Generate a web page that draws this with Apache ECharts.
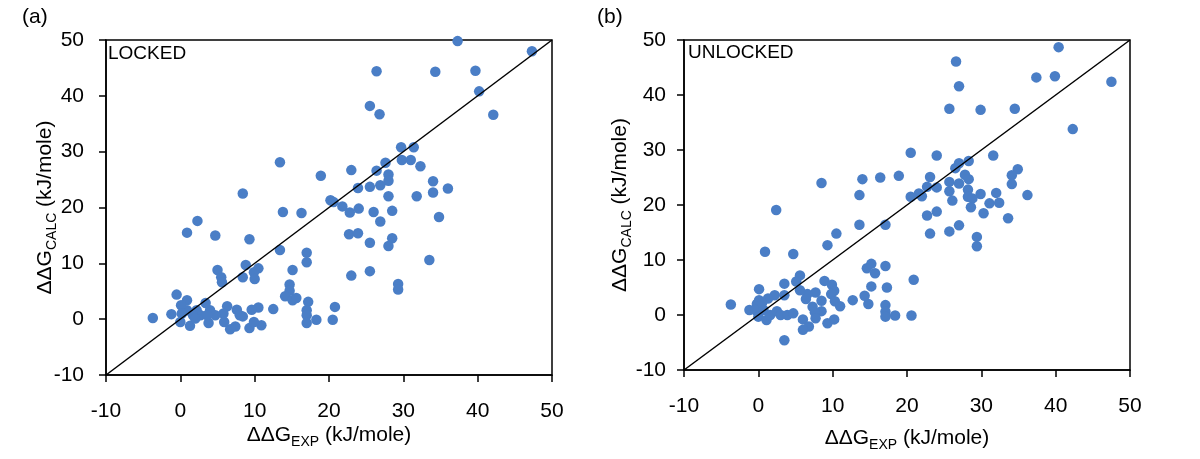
<!DOCTYPE html>
<html><head><meta charset="utf-8">
<script src="https://cdn.jsdelivr.net/npm/echarts@6/dist/echarts.min.js"></script>
<style>html,body{margin:0;padding:0;background:#fff}#c{width:1200px;height:459px}</style>
</head><body><div id="c"></div>
<script>
const lockedPts = [[13.4,28.1],[18.9,25.7],[8.4,22.5],[13.8,19.2],[16.3,19.0],[20.2,21.3],
[37.3,49.8],[47.3,48.0],[26.4,44.4],[34.3,44.3],[39.7,44.5],[40.2,40.8],[25.5,38.2],[26.8,36.7],[42.1,36.6],[29.7,30.8],[31.4,30.8],[29.8,28.5],[31.0,28.5],[32.3,27.4],[27.6,28.0],[26.4,26.6],[28.0,25.9],[28.0,24.8],[23.0,26.7],[23.9,23.5],[25.5,23.7],[26.9,24.0],[28.0,22.0],[31.8,22.0],[34.0,24.7],[34.0,22.7],[36.0,23.4],[20.6,21.0],[21.8,20.2],[22.8,19.1],[24.0,19.8],[26.0,19.2],[28.5,19.4],[26.9,17.5],[34.8,18.3],
[22.7,15.2],[23.9,15.4],[25.5,13.7],[28.5,14.5],[28.0,13.1],[33.5,10.6],[23.0,7.8],[25.5,8.6],[29.3,6.3],[29.3,5.3],[20.8,2.2],[20.5,-0.1],
[2.3,17.6],[0.9,15.5],[4.7,15.0],[9.3,14.3],[13.4,12.4],[17.0,11.9],[17.0,10.2],[15.1,8.8],[8.8,9.7],[10.5,9.1],[9.9,8.4],[8.4,7.5],[10.0,7.2],[5.0,8.8],[5.5,7.5],[5.6,6.6],[14.7,6.2],[14.7,5.1],[14.1,4.1],[15.1,3.4],[15.6,3.8],[17.2,3.1],[17.0,1.6],[17.0,0.7],[17.0,-0.7],[18.3,-0.1],[12.5,1.8],[10.5,2.1],[9.6,1.7],[10.9,-1.1],[9.3,-1.6],[9.9,-0.5],[8.4,0.5],[7.6,1.7],[8.0,0.7],[7.4,-1.3],[6.7,-1.8],[6.3,2.3],[5.8,1.0],[5.9,-0.5],[4.7,0.7],[3.8,-0.7],[4.0,1.6],[3.4,2.9],[2.7,0.7],[2.2,1.6],[1.3,-1.2],[0.9,3.4],[0.9,1.6],[0.1,2.5],[0.2,1.0],[0.0,-0.5],[-0.5,4.4],[-1.2,0.9],[-3.7,0.2],[1.7,0.7],[2.0,0.1],[3.6,0.7]];

const unlockedPts = [[8.5,24.0],[14.0,24.7],[16.4,25.0],[18.9,25.3],[13.6,21.8],[20.5,29.5],[20.5,21.5],[2.4,19.1],
[40.4,48.7],[26.6,46.1],[27.0,41.6],[37.4,43.2],[39.9,43.4],[47.5,42.4],[25.7,37.5],[29.9,37.3],[34.5,37.5],[42.3,33.8],[24.0,29.0],[31.6,29.0],[28.3,28.0],[27.0,27.6],[26.5,26.7],[23.1,25.1],[27.8,25.5],[28.3,24.7],[25.7,24.2],[27.0,23.9],[34.9,26.5],[34.1,25.4],[34.1,23.8],[22.7,23.3],[24.0,23.2],[28.2,22.8],[25.7,22.5],[21.6,22.1],[22.0,21.6],[28.2,21.5],[29.9,22.0],[32.0,22.2],[36.2,21.8],[26.1,20.8],[28.8,21.2],[31.1,20.3],[32.4,20.4],[28.6,19.6],[24.0,18.8],
[22.7,18.1],[30.3,18.5],[33.6,17.6],[23.1,14.8],[25.7,15.2],[27.0,16.3],[29.4,14.2],[29.4,12.5],[20.9,6.4],[20.6,-0.1],
[13.6,16.4],[17.1,16.4],[10.5,14.8],[9.3,12.7],[0.9,11.5],[4.7,11.1],[14.6,8.5],[15.2,9.3],[15.7,7.6],[17.1,8.9],[17.3,5.0],[15.2,5.2],[14.3,3.5],[12.7,2.7],[14.8,2.0],[17.1,1.8],[17.1,0.6],[17.1,-0.3],[18.4,-0.1],[5.6,7.2],[5.1,6.1],[3.5,5.7],[8.9,6.2],[9.9,5.5],[10.2,4.4],[9.8,3.8],[7.7,4.1],[6.6,3.8],[5.6,4.5],[6.4,2.9],[8.5,2.6],[10.3,2.5],[11.0,1.6],[7.3,1.5],[8.5,0.7],[7.6,0.5],[7.7,-0.6],[6.0,-0.8],[6.8,-2.1],[6.0,-2.7],[9.3,-1.5],[10.2,-0.8],[3.5,-4.6],[3.5,3.6],[2.2,3.6],[0.1,4.7],[0.1,2.7],[1.3,3.0],[-0.2,2.0],[-1.2,0.9],[-3.7,1.9],[-0.4,0.9],[0.7,0.9],[0.0,-0.3],[1.1,-0.9],[1.6,0.0],[2.5,0.7],[3.0,0.0],[3.9,0.0],[4.7,0.3],[0.5,2.2]];

const diagonal = [[-10,-10],[50,50]];
const axisMin = -10, axisMax = 50, axisStep = 10;
const panelLabels = ['(a)', '(b)'];
const panelTags = ['LOCKED', 'UNLOCKED'];

const FONT = 'Liberation Sans, Arial, sans-serif';
const DOT = '#4a7ec6';
const rich = {
  m: {fontSize: 21, fontFamily: FONT, color: '#000', verticalAlign: 'top', lineHeight: 24},
  s: {fontSize: 14, fontFamily: FONT, color: '#000', verticalAlign: 'top', lineHeight: 14, padding: [10, 0, 0, 0]}
};
function xAx(i, gap){
  return {gridIndex:i, type:'value', min:axisMin, max:axisMax, interval:axisStep,
    splitLine:{show:false},
    axisLine:{onZero:false, lineStyle:{color:'#000', width:1.5}},
    axisTick:{inside:false, length:7, lineStyle:{color:'#000', width:1.5}},
    axisLabel:{fontSize:21, color:'#000', fontFamily:FONT, margin:26},
    name:'{m|ΔΔG}{s|EXP}{m| (kJ/mole)}', nameLocation:'middle', nameGap:gap, nameMoveOverlap:false,
    nameTextStyle:{rich}};
}
function yAx(i, gap, margin){
  return {gridIndex:i, type:'value', min:axisMin, max:axisMax, interval:axisStep,
    splitLine:{show:false},
    axisLine:{onZero:false, lineStyle:{color:'#000', width:1.5}},
    axisTick:{inside:false, length:7, lineStyle:{color:'#000', width:1.5}},
    axisLabel:{fontSize:21, color:'#000', fontFamily:FONT, margin:margin},
    name:'{m|ΔΔG}{s|CALC}{m| (kJ/mole)}', nameLocation:'middle', nameGap:gap, nameRotate:90, nameMoveOverlap:false,
    nameTextStyle:{rich}};
}
const chart = echarts.init(document.getElementById('c'), null, {renderer:'canvas'});
chart.setOption({
  animation:false,
  backgroundColor:'#fff',
  grid:[
    {left:106, top:40, width:446, height:335, show:true, borderColor:'#000', borderWidth:1.5, backgroundColor:'transparent'},
    {left:684, top:40, width:446, height:330, show:true, borderColor:'#000', borderWidth:1.5, backgroundColor:'transparent'}
  ],
  xAxis:[xAx(0, 50), xAx(1, 58)],
  yAxis:[yAx(0, 47, 22), yAx(1, 50, 18)],
  graphic:[
    {type:'text', left:22, top:7, style:{text:panelLabels[0], font:'21px '+FONT, fill:'#000'}},
    {type:'text', left:597, top:7, style:{text:panelLabels[1], font:'21px '+FONT, fill:'#000'}},
    {type:'text', left:108, top:44, style:{text:panelTags[0], font:'19px '+FONT, fill:'#000'}},
    {type:'text', left:688, top:43, style:{text:panelTags[1], font:'19px '+FONT, fill:'#000'}}
  ],
  series:[
    {type:'scatter', xAxisIndex:0, yAxisIndex:0, data:lockedPts, symbolSize:10.5, itemStyle:{color:DOT, opacity:1}, z:2},
    {type:'scatter', xAxisIndex:1, yAxisIndex:1, data:unlockedPts, symbolSize:10.5, itemStyle:{color:DOT, opacity:1}, z:2},
    {type:'line', xAxisIndex:0, yAxisIndex:0, data:diagonal, symbol:'none', lineStyle:{color:'#000', width:1.5}, z:3},
    {type:'line', xAxisIndex:1, yAxisIndex:1, data:diagonal, symbol:'none', lineStyle:{color:'#000', width:1.5}, z:3}
  ]
});
</script></body></html>
